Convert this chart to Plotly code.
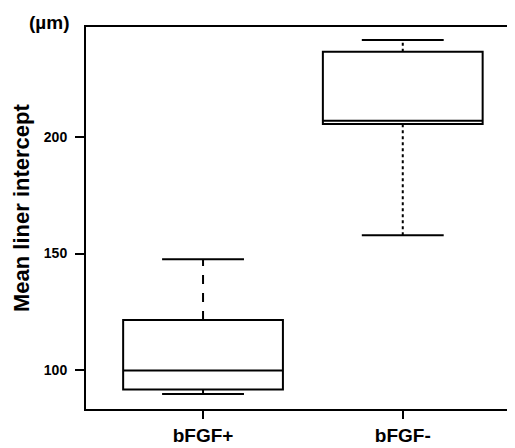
import plotly.graph_objects as go

categories = ["bFGF+", "bFGF-"]
positions = [1, 2]
lower_whisker = [89.7, 157.9]
q1 = [91.7, 205.6]
median = [99.8, 207.0]
q3 = [121.5, 236.6]
upper_whisker = [147.5, 241.6]
whisker_dash = ["dash", "dot"]
y_ticks = [100, 150, 200]

FONT = "Liberation Sans, Arial, sans-serif"
BOX_W = 0.8
CAP_W = 0.41
# page body has an 8px default margin; figure sized to fit the 515x448 window
OFF = 8
W, H = 515 - OFF, 448 - OFF
ML, MR, MT, MB = 86 - OFF, 0, 27 - OFF, 448 - OFF - (409 - OFF)
PW, PH = W - ML - MR, H - MT - MB

fig = go.Figure()

fig.add_trace(go.Box(
    x=positions, q1=q1, median=median, q3=q3,
    lowerfence=q1, upperfence=q3,
    width=BOX_W, whiskerwidth=0,
    fillcolor="white", line=dict(color="black", width=2),
    boxpoints=False, showlegend=False, hoverinfo="skip",
))

for p, a, b, c, d, ds in zip(positions, lower_whisker, q1, q3, upper_whisker, whisker_dash):
    fig.add_trace(go.Scatter(x=[p, p, None, p, p], y=[c, d, None, a, b], mode="lines",
                             line=dict(color="black", width=2, dash=ds),
                             showlegend=False, hoverinfo="skip"))

cx, cy = [], []
for p, a, d in zip(positions, lower_whisker, upper_whisker):
    cx += [p - CAP_W / 2, p + CAP_W / 2, None, p - CAP_W / 2, p + CAP_W / 2, None]
    cy += [d, d, None, a, a, None]
fig.add_trace(go.Scatter(x=cx, y=cy, mode="lines",
                         line=dict(color="black", width=2),
                         showlegend=False, hoverinfo="skip"))


def px_x(win_x):
    return (win_x - OFF - ML) / PW


def px_y(win_y):
    return 1 - (win_y - OFF - MT) / PH


fig.update_layout(
    width=W, height=H,
    margin=dict(l=ML, r=MR, t=MT, b=MB),
    paper_bgcolor="white", plot_bgcolor="white",
    font=dict(family=FONT, color="black"),
    xaxis=dict(
        range=[0.414, 2.562], tickmode="array", tickvals=positions,
        ticktext=categories, ticks="outside", ticklen=8, tickwidth=2,
        tickcolor="black", showline=True, linecolor="black", linewidth=2,
        mirror=True, showgrid=False, zeroline=False, automargin=False,
        ticklabelstandoff=0,
        tickfont=dict(size=19, weight="bold", family=FONT),
    ),
    yaxis=dict(
        range=[83.3, 247.2], tickmode="array", tickvals=y_ticks,
        ticks="outside", ticklen=9, tickwidth=2, tickcolor="black",
        showline=True, linecolor="black", linewidth=2,
        showgrid=False, zeroline=False, ticklabelstandoff=5, automargin=False,
        tickfont=dict(size=14, weight="bold", family=FONT),
    ),
    annotations=[
        dict(text="(µm)", x=px_x(49), y=px_y(22),
             xref="paper", yref="paper", xanchor="center", yanchor="middle",
             showarrow=False, font=dict(size=19, weight="bold", family=FONT)),
        dict(text="Mean liner intercept", x=px_x(21), y=px_y(208),
             xref="paper", yref="paper", xanchor="center", yanchor="middle",
             textangle=-90, showarrow=False,
             font=dict(size=22, weight="bold", family=FONT)),
    ],
)

fig.write_html("out.html")
